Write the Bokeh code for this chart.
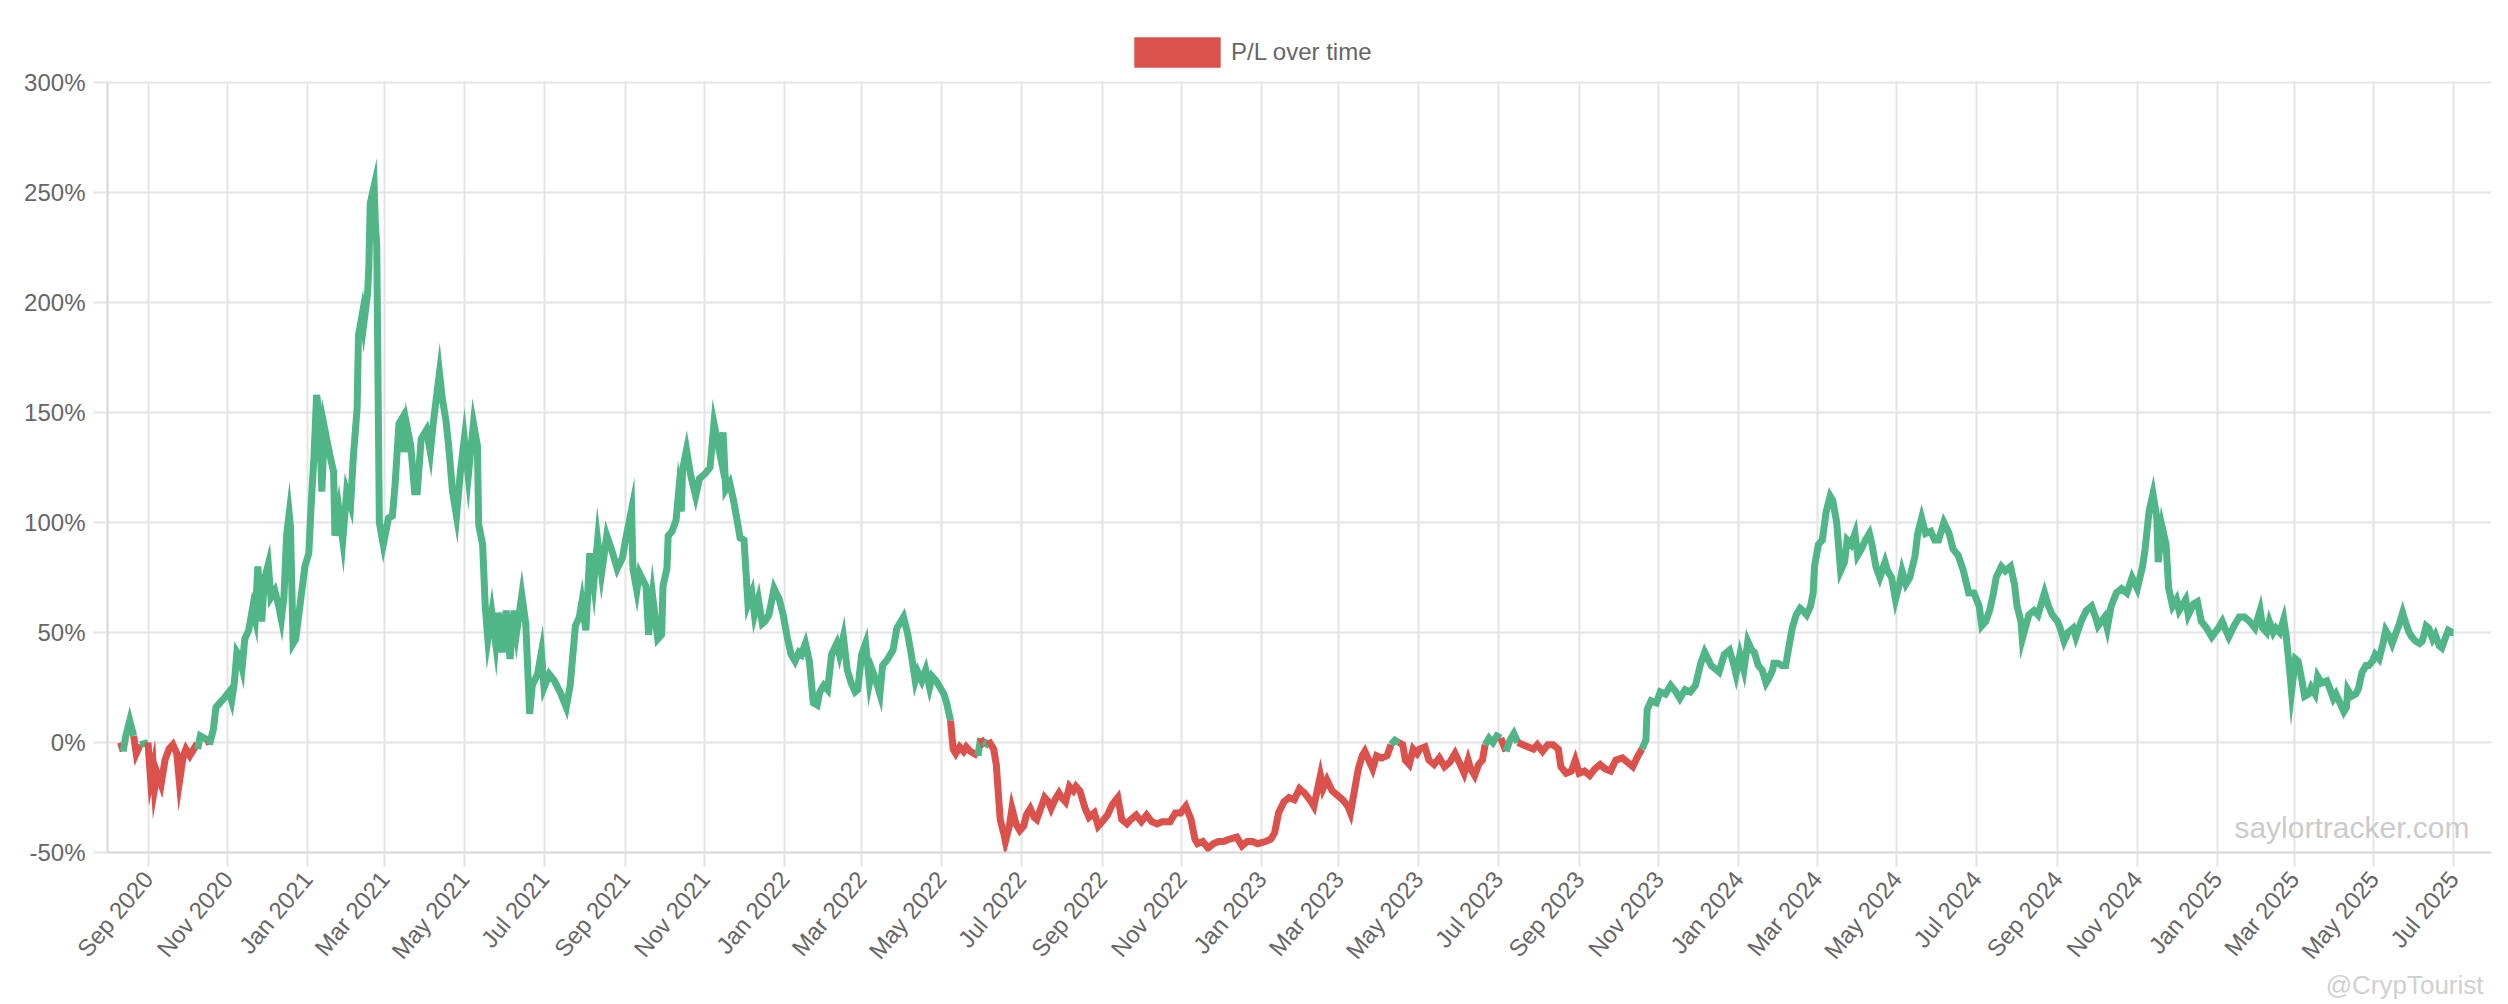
import pandas as pd
from bokeh.plotting import figure
from bokeh.models import (Range1d, FixedTicker, PrintfTickFormatter, Legend, LegendItem,
                          Label, Title, ColumnDataSource, DatetimeTickFormatter)
from bokeh.embed import file_html
from bokeh.resources import INLINE

# ---------------- data ----------------
pl_dates = [
 "2020-08-11","2020-08-13","2020-08-15","2020-08-18","2020-08-21","2020-08-23","2020-08-26","2020-09-01",
 "2020-09-03","2020-09-05","2020-09-06","2020-09-08","2020-09-11","2020-09-14","2020-09-17","2020-09-20",
 "2020-09-23","2020-09-25","2020-09-28","2020-09-30","2020-10-03","2020-10-07","2020-10-09","2020-10-11",
 "2020-10-14","2020-10-17","2020-10-18","2020-10-21","2020-10-23","2020-10-26","2020-10-29","2020-11-02",
 "2020-11-04","2020-11-06","2020-11-08","2020-11-10","2020-11-12","2020-11-14","2020-11-17","2020-11-20",
 "2020-11-22","2020-11-24","2020-11-26","2020-11-27","2020-11-29","2020-12-02","2020-12-04","2020-12-07",
 "2020-12-10","2020-12-12","2020-12-14","2020-12-16","2020-12-18","2020-12-19","2020-12-21","2020-12-23",
 "2020-12-26","2020-12-30",
 "2021-01-02","2021-01-04","2021-01-06","2021-01-08","2021-01-10","2021-01-12","2021-01-14","2021-01-18",
 "2021-01-21","2021-01-22","2021-01-25","2021-01-28","2021-01-31","2021-02-03","2021-02-05","2021-02-08",
 "2021-02-09","2021-02-12","2021-02-13","2021-02-16","2021-02-17","2021-02-18","2021-02-21","2021-02-22",
 "2021-02-23","2021-02-25","2021-02-28","2021-03-04","2021-03-07","2021-03-09","2021-03-12","2021-03-15",
 "2021-03-16","2021-03-18","2021-03-21","2021-03-24","2021-03-26","2021-03-29","2021-04-02","2021-04-05",
 "2021-04-07","2021-04-12","2021-04-14","2021-04-17","2021-04-19","2021-04-22","2021-04-25","2021-04-28",
 "2021-05-01","2021-05-04","2021-05-08","2021-05-11","2021-05-12","2021-05-15","2021-05-17","2021-05-19",
 "2021-05-22","2021-05-25","2021-05-27","2021-05-30","2021-06-02","2021-06-05","2021-06-08","2021-06-10",
 "2021-06-14","2021-06-17","2021-06-20","2021-06-22","2021-06-26","2021-06-29","2021-07-01","2021-07-05",
 "2021-07-09","2021-07-14","2021-07-18","2021-07-21","2021-07-25","2021-07-28","2021-07-30","2021-08-02",
 "2021-08-05","2021-08-08","2021-08-11","2021-08-14","2021-08-18","2021-08-22","2021-08-26","2021-08-30",
 "2021-09-02","2021-09-06","2021-09-07","2021-09-10","2021-09-12","2021-09-17","2021-09-19","2021-09-22",
 "2021-09-26","2021-09-29","2021-09-30","2021-10-03","2021-10-04","2021-10-07","2021-10-10","2021-10-12",
 "2021-10-14","2021-10-15","2021-10-18","2021-10-21","2021-10-25","2021-10-28","2021-11-01","2021-11-05",
 "2021-11-08","2021-11-10","2021-11-13","2021-11-15","2021-11-17","2021-11-20","2021-11-23","2021-11-26",
 "2021-11-28","2021-12-01","2021-12-04","2021-12-07","2021-12-09","2021-12-12","2021-12-15","2021-12-17",
 "2021-12-20","2021-12-24","2021-12-28","2021-12-31",
 "2022-01-03","2022-01-06","2022-01-09","2022-01-12","2022-01-14","2022-01-17","2022-01-20","2022-01-23",
 "2022-01-26","2022-01-28","2022-01-31","2022-02-03","2022-02-06","2022-02-10","2022-02-12","2022-02-15",
 "2022-02-18","2022-02-21","2022-02-24","2022-02-26","2022-03-01","2022-03-04","2022-03-07","2022-03-09",
 "2022-03-12","2022-03-15","2022-03-17","2022-03-21","2022-03-25","2022-03-28","2022-03-31","2022-04-02",
 "2022-04-05","2022-04-08","2022-04-11","2022-04-13","2022-04-16","2022-04-19","2022-04-22","2022-04-24",
 "2022-04-27","2022-04-30","2022-05-03","2022-05-05","2022-05-08","2022-05-10","2022-05-12","2022-05-15",
 "2022-05-18","2022-05-20","2022-05-23","2022-05-26","2022-05-29","2022-05-31","2022-06-03","2022-06-06",
 "2022-06-10","2022-06-12","2022-06-15","2022-06-18","2022-06-19","2022-06-22","2022-06-24","2022-06-27",
 "2022-06-30","2022-07-03","2022-07-05","2022-07-08","2022-07-11","2022-07-13","2022-07-16","2022-07-19",
 "2022-07-22","2022-07-24","2022-07-27","2022-07-30","2022-08-01","2022-08-04","2022-08-07","2022-08-10",
 "2022-08-12","2022-08-15","2022-08-19","2022-08-22","2022-08-26","2022-08-29","2022-09-01","2022-09-05",
 "2022-09-09","2022-09-13","2022-09-16","2022-09-20","2022-09-23","2022-09-27","2022-10-01","2022-10-05",
 "2022-10-09","2022-10-13","2022-10-17","2022-10-23","2022-10-27","2022-10-31","2022-11-04","2022-11-08",
 "2022-11-11","2022-11-13","2022-11-17","2022-11-21","2022-11-25","2022-11-29","2022-12-03","2022-12-07",
 "2022-12-13","2022-12-17","2022-12-21","2022-12-25","2022-12-29",
 "2023-01-04","2023-01-08","2023-01-11","2023-01-14","2023-01-18","2023-01-22","2023-01-26","2023-01-30",
 "2023-02-03","2023-02-08","2023-02-10","2023-02-15","2023-02-17","2023-02-20","2023-02-24","2023-02-28",
 "2023-03-04","2023-03-08","2023-03-10","2023-03-13","2023-03-16","2023-03-19","2023-03-21","2023-03-24",
 "2023-03-27","2023-03-30","2023-04-03","2023-04-07","2023-04-10","2023-04-13","2023-04-16","2023-04-19",
 "2023-04-21","2023-04-24","2023-04-27","2023-04-30","2023-05-02","2023-05-06","2023-05-09","2023-05-13",
 "2023-05-17","2023-05-21","2023-05-25","2023-05-29","2023-06-02","2023-06-05","2023-06-08","2023-06-10",
 "2023-06-13","2023-06-16","2023-06-19","2023-06-21","2023-06-24","2023-06-27","2023-06-30","2023-07-03",
 "2023-07-07","2023-07-10","2023-07-13","2023-07-16","2023-07-20","2023-07-24","2023-07-28","2023-07-31",
 "2023-08-04","2023-08-08","2023-08-12","2023-08-16","2023-08-18","2023-08-22","2023-08-26","2023-08-29",
 "2023-09-01","2023-09-05","2023-09-09","2023-09-13","2023-09-17","2023-09-21","2023-09-25","2023-09-29",
 "2023-10-04","2023-10-08","2023-10-12","2023-10-16","2023-10-19","2023-10-22","2023-10-23","2023-10-26",
 "2023-10-30","2023-11-02","2023-11-06","2023-11-10","2023-11-14","2023-11-17","2023-11-21","2023-11-25",
 "2023-11-29","2023-12-03","2023-12-06","2023-12-11","2023-12-17","2023-12-21","2023-12-25","2023-12-28",
 "2023-12-30",
 "2024-01-02","2024-01-05","2024-01-08","2024-01-11","2024-01-13","2024-01-16","2024-01-19","2024-01-22",
 "2024-01-24","2024-01-27","2024-01-28","2024-01-31","2024-02-03","2024-02-06","2024-02-08","2024-02-11",
 "2024-02-14","2024-02-17","2024-02-19","2024-02-22","2024-02-25","2024-02-27","2024-02-28","2024-03-02",
 "2024-03-05","2024-03-08","2024-03-11","2024-03-13","2024-03-16","2024-03-19","2024-03-22","2024-03-24",
 "2024-03-27","2024-03-30","2024-04-01","2024-04-04","2024-04-07","2024-04-10","2024-04-12","2024-04-15",
 "2024-04-18","2024-04-22","2024-04-24","2024-04-27","2024-04-30","2024-05-03","2024-05-05","2024-05-08",
 "2024-05-11","2024-05-15","2024-05-17","2024-05-20","2024-05-23","2024-05-27","2024-05-30","2024-06-02",
 "2024-06-06","2024-06-10","2024-06-13","2024-06-17","2024-06-21","2024-06-25","2024-06-29","2024-07-03",
 "2024-07-05","2024-07-08","2024-07-11","2024-07-14","2024-07-16","2024-07-20","2024-07-23","2024-07-27",
 "2024-07-30","2024-08-01","2024-08-04","2024-08-05","2024-08-10","2024-08-14","2024-08-17","2024-08-19",
 "2024-08-22","2024-08-25","2024-08-28","2024-09-01","2024-09-03","2024-09-06","2024-09-09","2024-09-13",
 "2024-09-15","2024-09-19","2024-09-23","2024-09-27","2024-09-30","2024-10-02","2024-10-07","2024-10-09",
 "2024-10-12","2024-10-16","2024-10-20","2024-10-24","2024-10-28","2024-11-01","2024-11-05","2024-11-07",
 "2024-11-10","2024-11-13","2024-11-16","2024-11-17","2024-11-20","2024-11-23","2024-11-25","2024-11-28",
 "2024-12-01","2024-12-03","2024-12-08","2024-12-10","2024-12-14","2024-12-17","2024-12-20","2024-12-24",
 "2024-12-28",
 "2025-01-02","2025-01-05","2025-01-07","2025-01-10","2025-01-14","2025-01-18","2025-01-22","2025-01-26",
 "2025-01-30","2025-02-03","2025-02-05","2025-02-08","2025-02-10","2025-02-13","2025-02-15","2025-02-18",
 "2025-02-21","2025-02-23","2025-02-26","2025-02-27","2025-03-02","2025-03-04","2025-03-07","2025-03-09",
 "2025-03-12","2025-03-14","2025-03-17","2025-03-19","2025-03-22","2025-03-26","2025-03-28","2025-03-31",
 "2025-04-02","2025-04-05","2025-04-08","2025-04-10","2025-04-11","2025-04-14","2025-04-17","2025-04-19",
 "2025-04-22","2025-04-25","2025-04-27","2025-04-30","2025-05-02","2025-05-05","2025-05-08","2025-05-10",
 "2025-05-13","2025-05-15","2025-05-18","2025-05-20","2025-05-23","2025-05-25","2025-05-28","2025-05-30",
 "2025-06-02","2025-06-05","2025-06-07","2025-06-10","2025-06-12","2025-06-15","2025-06-17","2025-06-20",
 "2025-06-22","2025-06-25","2025-06-27","2025-06-30","2025-07-01",
]

pl_values = [
 0,-4,3,10,3,-5,-1,0,
 -17,-11,-21,-14,-19,-8,-3,-1,
 -5,-18,-6,-3,-6,-2,-3,3,
 2,1,-1,6,16,18,20,23,
 19,27,41,39,34,47,51,61,
 56,80,64,55,74,81,66,69,
 62,56,66,94,104,98,45,47,
 61,80,
 86,110,130,158,150,114,143,131,
 123,94,106,92,114,108,129,152,
 185,195,190,204,217,245,253,235,
 226,100,90,102,103,117,145,148,
 132,144,135,114,114,138,142,132,
 144,168,157,146,135,114,103,123,
 138,121,145,135,99,90,62,47,
 59,45,59,41,60,38,60,50,
 67,54,13,26,31,41,25,31,
 28,22,16,26,53,57,64,51,
 86,72,92,77,94,87,79,84,
 94,106,79,69,77,71,49,67,
 47,49,71,79,94,96,101,114,
 105,124,133,122,112,120,122,125,
 145,139,130,141,115,118,110,100,
 93,92,63,68,58,65,54,55,
 58,70,65,58,
 48,40,37,41,40,45,37,18,
 17,23,26,24,40,45,40,48,
 33,27,23,24,40,45,27,33,
 28,22,35,38,42,52,55,57,
 50,40,28,32,28,33,25,30,
 28,25,22,18,10,-3,-5,-2,
 -4,-2,-4,-5,-6,2,-2,1,
 -3,-10,-35,-42,-45,-38,-30,-37,
 -40,-38,-33,-30,-34,-35,-30,-25,
 -27,-30,-26,-23,-25,-27,-20,-22,
 -20,-22,-30,-34,-32,-38,-36,-33,
 -28,-25,-35,-37,-35,-33,-36,-33,
 -36,-37,-36,-36,-32,-32,-29,-35,
 -44,-46,-45,-48,-46,-45,-45,-44,
 -43,-47,-45,-45,-46,
 -45,-44,-41,-32,-27,-25,-26,-21,
 -23,-27,-29,-15,-21,-17,-22,-24,
 -26,-29,-32,-22,-12,-6,-4,-8,
 -12,-6,-7,-6,-1,1,0,-1,
 -8,-10,-3,-5,-3,-2,-8,-10,
 -7,-11,-9,-5,-10,-14,-8,-12,
 -15,-10,-8,-1,2,0,3,2,
 -4,1,4,0,-1,-2,-3,-1,
 -4,-1,-1,-3,-11,-14,-13,-8,
 -14,-13,-15,-12,-10,-12,-13,-8,
 -7,-9,-11,-6,-3,1,15,19,
 18,23,22,26,23,20,24,23,
 26,36,41,35,32,40,42,36,
 31,
 40,33,46,42,41,35,33,27,
 29,33,36,36,35,35,42,52,
 58,61,60,58,62,68,80,90,
 92,105,112,110,100,78,82,92,
 90,95,85,88,92,95,90,80,
 75,82,78,75,65,72,78,72,
 75,85,95,102,95,96,92,92,
 100,95,88,85,78,68,68,62,
 53,55,60,68,75,80,78,80,
 72,62,55,47,58,60,58,62,
 68,62,58,55,52,46,50,52,
 48,55,60,62,57,53,57,52,
 62,68,70,68,75,70,80,88,
 105,113,102,82,98,90,70,62,
 65,60,65,58,63,64,55,52,
 48,
 52,55,52,48,53,57,57,55,
 52,60,52,50,55,50,52,50,
 56,48,30,23,38,37,28,21,
 22,25,22,30,27,28,25,20,
 22,18,14,16,24,21,22,24,
 32,35,35,37,40,38,45,51,
 48,45,50,53,59,55,50,48,
 46,45,46,53,52,47,49,44,
 43,48,51,50,50,
]

tick_dates = [
 "2020-09-01","2020-11-01","2021-01-01","2021-03-01","2021-05-01","2021-07-01",
 "2021-09-01","2021-11-01","2022-01-01","2022-03-01","2022-05-01","2022-07-01",
 "2022-09-01","2022-11-01","2023-01-01","2023-03-01","2023-05-01","2023-07-01",
 "2023-09-01","2023-11-01","2024-01-01","2024-03-01","2024-05-01","2024-07-01",
 "2024-09-01","2024-11-01","2025-01-01","2025-03-01","2025-05-01","2025-07-01",
]
tick_labels = [
 "Sep 2020","Nov 2020","Jan 2021","Mar 2021","May 2021","Jul 2021",
 "Sep 2021","Nov 2021","Jan 2022","Mar 2022","May 2022","Jul 2022",
 "Sep 2022","Nov 2022","Jan 2023","Mar 2023","May 2023","Jul 2023",
 "Sep 2023","Nov 2023","Jan 2024","Mar 2024","May 2024","Jul 2024",
 "Sep 2024","Nov 2024","Jan 2025","Mar 2025","May 2025","Jul 2025",
]
y_ticks = [-50, 0, 50, 100, 150, 200, 250, 300]
legend_label = "P/L over time"

GREEN = "#50b587"
RED = "#db514b"
TXT = "#666666"
GRID = "#e4e4e4"
FONT = "Liberation Sans"

assert len(pl_dates) == len(pl_values)

# ---------------- figure ----------------
def to_ms(strs):
    return [float(v) for v in (pd.to_datetime(strs).astype("int64") // 10**6)]

x_ms = to_ms(pl_dates)
tick_ms = to_ms(tick_dates)
x_start, x_end = to_ms(["2020-08-01"])[0], to_ms(["2025-07-30"])[0]

# layout (px): plot area 300%..-50% spans 770 px; the area extends 82 px above 300% for the legend
Y_LO, Y_HI = y_ticks[0], y_ticks[-1]
PLOT_H, TOP_PAD = 770, 82
y_top = Y_HI + TOP_PAD * (Y_HI - Y_LO) / PLOT_H
unit_px = PLOT_H / (Y_HI - Y_LO)

p = figure(width=2500, height=1004, x_axis_type="datetime",
           x_range=Range1d(x_start, x_end), y_range=Range1d(Y_LO, y_top),
           output_backend="svg", toolbar_location=None,
           min_border_left=107, min_border_right=9, min_border_top=0, min_border_bottom=152)
p.outline_line_color = None
p.background_fill_color = "white"
p.border_fill_color = "white"

# runs of same colour (segment colour follows the sign of its end point)
xs_runs, ys_runs, cols = [], [], []
cur_x, cur_y = [x_ms[0]], [pl_values[0]]
cur_c = GREEN if pl_values[1] >= 0 else RED
for i in range(1, len(pl_values)):
    c = GREEN if pl_values[i] >= 0 else RED
    if c != cur_c:
        xs_runs.append(cur_x); ys_runs.append(cur_y); cols.append(cur_c)
        cur_x, cur_y, cur_c = [x_ms[i - 1]], [pl_values[i - 1]], c
    cur_x.append(x_ms[i]); cur_y.append(pl_values[i])
xs_runs.append(cur_x); ys_runs.append(cur_y); cols.append(cur_c)

# white mask hiding the vertical grid lines above the 300% line (legend area)
p.quad(left=[x_start], right=[x_end], bottom=[Y_HI + 1.2 / unit_px], top=[y_top],
       fill_color="white", line_color=None)

src = ColumnDataSource(dict(xs=xs_runs, ys=ys_runs, color=cols))
p.multi_line(xs="xs", ys="ys", line_color="color", line_width=7, line_join="miter", source=src)

# axes
p.xaxis.ticker = FixedTicker(ticks=tick_ms)
fmt = "%b %Y"
p.xaxis.formatter = DatetimeTickFormatter(microseconds=fmt, milliseconds=fmt, seconds=fmt, minsec=fmt,
                                          minutes=fmt, hourmin=fmt, hours=fmt, days=fmt, months=fmt, years=fmt)
p.xaxis.major_label_overrides = {t: l for t, l in zip(tick_ms, tick_labels)}
p.xaxis.major_label_orientation = 50 * 3.14159265 / 180
p.yaxis.ticker = FixedTicker(ticks=y_ticks)
p.yaxis.formatter = PrintfTickFormatter(format="%d%%")
p.yaxis.bounds = (Y_LO, Y_HI)

for ax in (p.xaxis[0], p.yaxis[0]):
    ax.major_label_text_font = FONT
    ax.major_label_text_font_size = "24px"
    ax.major_label_text_color = TXT
    ax.major_tick_out = 14
    ax.major_tick_in = 0
    ax.major_tick_line_color = GRID
    ax.major_tick_line_width = 2
    ax.minor_tick_line_color = None
    ax.axis_line_color = "#d6d6d6"
    ax.axis_line_width = 2
    ax.major_label_standoff = 8

p.xgrid.grid_line_color = GRID
p.ygrid.grid_line_color = GRID
p.xgrid.grid_line_width = 2
p.ygrid.grid_line_width = 2

# legend proxy: a zero-area quad (draws nothing in the plot) that gives the legend its red box
leg_r = p.quad(left=[x_ms[0]], right=[x_ms[0]], top=[pl_values[0]], bottom=[pl_values[0]],
               fill_color=RED, line_color=None)
legend = Legend(items=[LegendItem(label=legend_label, renderers=[leg_r])],
                location=(1016, 781), orientation="horizontal",
                glyph_width=108, glyph_height=38, label_standoff=0, label_height=38,
                padding=0, margin=0, spacing=0,
                border_line_color=None, background_fill_alpha=0,
                label_text_font=FONT, label_text_font_size="24px", label_text_color=TXT)
p.add_layout(legend)

# watermarks
p.add_layout(Label(x=2362, y=25, x_units="screen", y_units="screen", text="saylortracker.com",
                   text_align="right", text_baseline="alphabetic", text_font=FONT,
                   text_font_size="30px", text_color="#cbcbcb"))
p.add_layout(Title(text="@CrypTourist", align="right", text_font=FONT, text_font_size="26px",
                   text_font_style="normal", text_color="#d0d0d0", standoff=-16, offset=8), "below")

open("out.html", "w").write(file_html(p, INLINE))
